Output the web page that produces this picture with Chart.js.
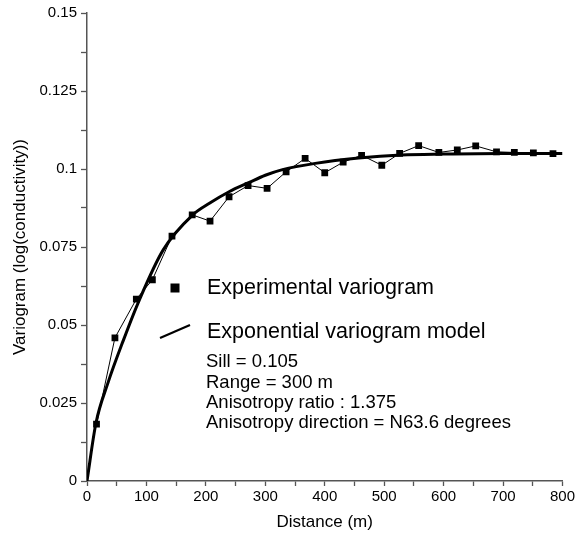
<!DOCTYPE html>
<html>
<head>
<meta charset="utf-8">
<script src="https://cdn.jsdelivr.net/npm/chart.js@4"></script>
<style>
  html, body { margin: 0; padding: 0; background: #fff; }
  canvas { display: block; }
</style>
</head>
<body>
<canvas id="c" width="577" height="542"></canvas>
<script>
// ---- data ----
const distance = [16, 47, 83, 110, 143, 177, 207, 239, 271, 303, 335, 367, 400, 431, 462, 496, 526, 558, 592, 623, 654, 689, 719, 751, 784];
const experimental = [0.0182, 0.0459, 0.0583, 0.0645, 0.0785, 0.0853, 0.0833, 0.0911, 0.0947, 0.0938, 0.0991, 0.1034, 0.0988, 0.1022, 0.1044, 0.1012, 0.105, 0.1075, 0.1053, 0.1061, 0.1074, 0.1055, 0.1053, 0.1052, 0.1049];
const modelDistance = [0, 15, 35, 61, 88, 128, 178, 206, 239, 273, 300, 329, 384, 457, 529, 600, 700, 800];
const modelValues = [0, 0.0185, 0.0313, 0.045, 0.058, 0.074, 0.0853, 0.089, 0.0927, 0.0957, 0.098, 0.0998, 0.1018, 0.1035, 0.1045, 0.1048, 0.105, 0.105];
const xTickLabels = ['0', '100', '200', '300', '400', '500', '600', '700', '800'];
const yTickLabels = ['0', '0.025', '0.05', '0.075', '0.1', '0.125', '0.15'];
const xTitle = 'Distance (m)';
const yTitle = 'Variogram (log(conductivity))';
const legendLabels = ['Experimental variogram', 'Exponential variogram model'];
const modelNotes = ['Sill = 0.105', 'Range = 300 m', 'Anisotropy ratio : 1.375', 'Anisotropy direction = N63.6 degrees'];

const FONT = "'Liberation Sans', Arial, Helvetica, sans-serif";
Chart.defaults.font.family = FONT;
Chart.defaults.color = '#000';

const legendPlugin = {
  id: 'insideLegend',
  afterDraw(chart) {
    const ctx = chart.ctx;
    ctx.save();
    // square marker
    ctx.fillStyle = '#000';
    ctx.fillRect(170.5, 283.5, 9, 9);
    // line marker
    ctx.strokeStyle = '#000';
    ctx.lineWidth = 2.2;
    ctx.beginPath();
    ctx.moveTo(160, 338);
    ctx.lineTo(190, 325);
    ctx.stroke();
    ctx.textAlign = 'left';
    ctx.textBaseline = 'alphabetic';
    ctx.font = "21.5px " + FONT;
    ctx.fillText(legendLabels[0], 207, 294);
    ctx.fillText(legendLabels[1], 207, 338);
    ctx.font = "18.5px " + FONT;
    const base = [366.5, 388, 407.5, 427.5];
    modelNotes.forEach((t, i) => ctx.fillText(t, 206, base[i]));
    ctx.restore();
  }
};

new Chart(document.getElementById('c'), {
  type: 'scatter',
  data: {
    datasets: [
      {
        label: legendLabels[0],
        data: distance.map((d, i) => ({ x: d, y: experimental[i] })),
        showLine: true,
        borderColor: '#000',
        borderWidth: 1,
        pointStyle: 'rect',
        pointRadius: 4.8,
        pointBackgroundColor: '#000',
        pointBorderColor: '#000',
        pointBorderWidth: 0,
        order: 1
      },
      {
        label: legendLabels[1],
        data: modelDistance.map((d, i) => ({ x: d, y: modelValues[i] })),
        showLine: true,
        borderColor: '#000',
        borderWidth: 3,
        pointRadius: 0,
        cubicInterpolationMode: 'monotone',
        order: 2
      }
    ]
  },
  options: {
    responsive: false,
    animation: false,
    devicePixelRatio: 1,
    layout: { padding: { left: 0, right: 12, top: 13, bottom: 0 } },
    plugins: { legend: { display: false }, tooltip: { enabled: false } },
    scales: {
      x: {
        type: 'linear', min: 0, max: 800,
        ticks: {
          stepSize: 50, autoSkip: false, maxRotation: 0, padding: 2,
          font: { size: 15 }, color: '#000',
          callback: (v, i) => (i % 2 === 0 ? xTickLabels[i / 2] : '')
        },
        grid: { drawOnChartArea: false, drawTicks: true, tickLength: 5, tickColor: '#555', tickWidth: 1.3 },
        border: { display: true, color: '#555', width: 1.5 },
        title: { display: true, text: xTitle, font: { size: 17 }, color: '#000', padding: { top: 0, bottom: 9 } },
        afterFit: s => { s.height = 61; }
      },
      y: {
        type: 'linear', min: 0, max: 0.15,
        ticks: {
          stepSize: 0.0125, autoSkip: false, padding: 4,
          font: { size: 15 }, color: '#000',
          callback: (v, i) => (i % 2 === 0 ? yTickLabels[i / 2] : '')
        },
        grid: { drawOnChartArea: false, drawTicks: true, tickLength: 6, tickColor: '#555', tickWidth: 1.3 },
        border: { display: true, color: '#555', width: 1.5 },
        title: { display: true, text: yTitle, font: { size: 17 }, color: '#000', padding: { top: 10, bottom: 0 } },
        afterFit: s => { s.width = 87; }
      }
    }
  },
  plugins: [legendPlugin]
});
</script>
</body>
</html>
